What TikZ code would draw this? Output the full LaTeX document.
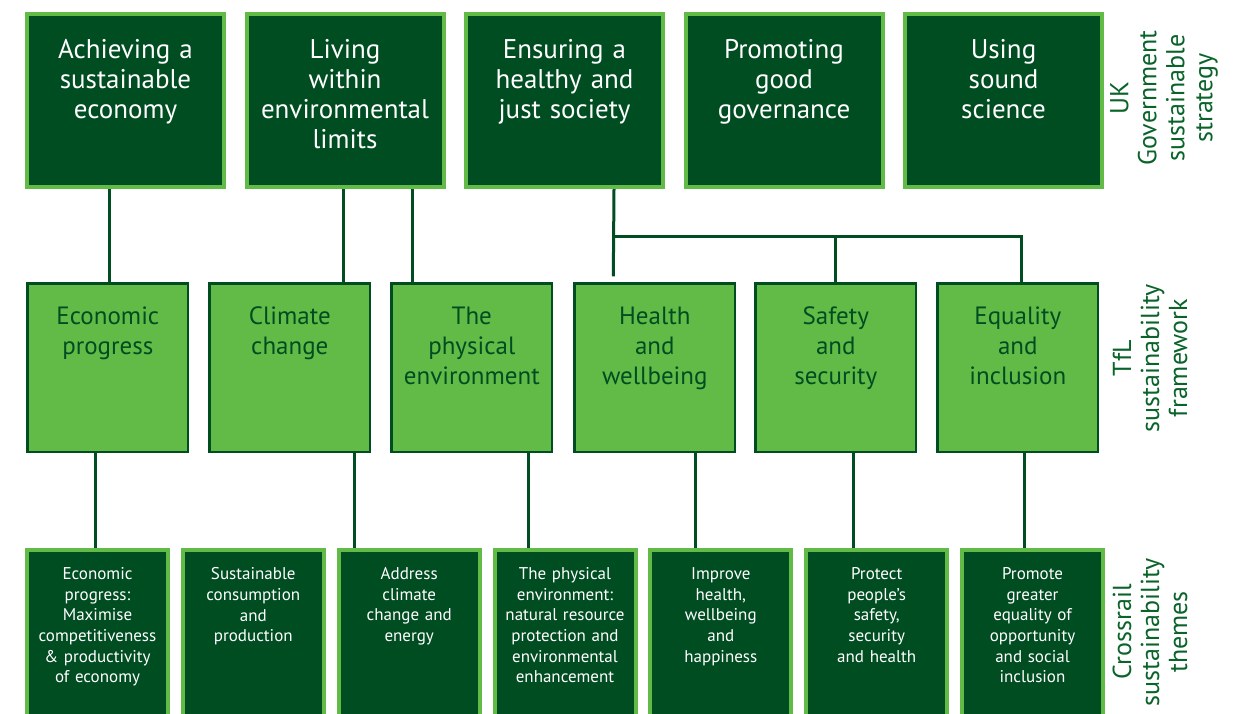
\documentclass[tikz,border=0pt]{standalone}
\usepackage{fontspec}
\setmainfont{PT Sans}
\usetikzlibrary{calc,backgrounds}
\definecolor{deep}{RGB}{0,77,34}
\definecolor{leaf}{RGB}{98,187,70}
\definecolor{caption}{RGB}{10,100,42}
\begin{document}
\begin{tikzpicture}[x=1pt,y=-1pt,
  govbox/.style={draw=leaf, fill=deep, line width=4pt, minimum width=197pt, minimum height=173pt, anchor=north west, inner sep=0pt},
  tflbox/.style={draw=deep, fill=leaf, line width=2.6pt, minimum width=160.4pt, minimum height=168.4pt, anchor=north west, inner sep=0pt},
  crbox/.style={draw=leaf, fill=deep, line width=4pt, minimum width=141pt, minimum height=200pt, anchor=north west, inner sep=0pt},
  govtext/.style={anchor=north, inner sep=0pt, text=white, align=center, text width=195pt, font=\fontsize{27}{30}\selectfont},
  tfltext/.style={anchor=north, inner sep=0pt, text=deep, align=center, text width=158pt, font=\fontsize{25}{30}\selectfont},
  crtext/.style={anchor=north, inner sep=0pt, text=white, align=center, text width=140pt, font=\fontsize{17}{20.6}\selectfont},
  sidelabel/.style={rotate=90, inner sep=0pt, text=caption, align=center, font=\fontsize{26}{28}\selectfont},
  link/.style={draw=deep, line width=3pt}]
\useasboundingbox (0,0) rectangle (1236,713);
\clip (0,0) rectangle (1236,713);

% UK Government sustainable strategy
\node[govbox] (t1) at (25,12) {};
\node[govbox] (t2) at (244.5,12) {};
\node[govbox] (t3) at (464,12) {};
\node[govbox] (t4) at (683.5,12) {};
\node[govbox] (t5) at (903,12) {};
\node[govtext] (t1x) at ([yshift=-27pt]t1.north) {Achieving a\\sustainable\\economy};
\node[govtext] (t2x) at ([yshift=-27pt]t2.north) {Living\\within\\environmental\\limits};
\node[govtext] (t3x) at ([yshift=-27pt]t3.north) {Ensuring a\\healthy and\\just society};
\node[govtext] (t4x) at ([yshift=-27pt]t4.north) {Promoting\\good\\governance};
\node[govtext] (t5x) at ([yshift=-27pt]t5.north) {Using\\sound\\science};

% TfL sustainability framework
\node[tflbox] (m1) at (26.3,282.3) {};
\node[tflbox] (m2) at (208.3,282.3) {};
\node[tflbox] (m3) at (390.3,282.3) {};
\node[tflbox] (m4) at (573.3,282.3) {};
\node[tflbox] (m5) at (754.3,282.3) {};
\node[tflbox] (m6) at (936.3,282.3) {};
\node[tfltext] (m1x) at ([yshift=-24pt]m1.north) {Economic\\progress};
\node[tfltext] (m2x) at ([yshift=-24pt]m2.north) {Climate\\change};
\node[tfltext] (m3x) at ([yshift=-24pt]m3.north) {The\\physical\\environment};
\node[tfltext] (m4x) at ([yshift=-24pt]m4.north) {Health\\and\\wellbeing};
\node[tfltext] (m5x) at ([yshift=-24pt]m5.north) {Safety\\and\\security};
\node[tfltext] (m6x) at ([yshift=-24pt]m6.north) {Equality\\and\\inclusion};

% Crossrail sustainability themes
\node[crbox] (b1) at (25,548) {};
\node[crbox] (b2) at (180.8,548) {};
\node[crbox] (b3) at (336.7,548) {};
\node[crbox] (b4) at (492.5,548) {};
\node[crbox] (b5) at (648.3,548) {};
\node[crbox] (b6) at (804.2,548) {};
\node[crbox] (b7) at (960,548) {};
\node[crtext] (b1x) at ([yshift=-19.5pt]b1.north) {Economic\\progress:\\Maximise\\competitiveness\\\& productivity\\of economy};
\node[crtext] (b2x) at ([yshift=-19.5pt]b2.north) {Sustainable\\consumption\\and\\production};
\node[crtext] (b3x) at ([yshift=-19.5pt]b3.north) {Address\\climate\\change and\\energy};
\node[crtext] (b4x) at ([yshift=-19.5pt]b4.north) {The physical\\environment:\\natural resource\\protection and\\environmental\\enhancement};
\node[crtext] (b5x) at ([yshift=-19.5pt]b5.north) {Improve\\health,\\wellbeing\\and\\happiness};
\node[crtext] (b6x) at ([yshift=-19.5pt]b6.north) {Protect\\people’s\\safety,\\security\\and health};
\node[crtext] (b7x) at ([yshift=-19.5pt]b7.north) {Promote\\greater\\equality of\\opportunity\\and social\\inclusion};

% Row captions
\node[sidelabel] (ukcap) at (1164,98) {UK\\Government\\sustainable\\strategy};
\node[sidelabel] (tflcap) at (1150,358) {TfL\\sustainability\\framework};
\node[sidelabel] (crcap) at (1150,632) {Crossrail\\sustainability\\themes};

% Connectors, kept behind the boxes
\begin{scope}[on background layer]
  \fill[white] (0,0) rectangle (1236,713);
  \draw[link] ([xshift=1.5pt]m1.north) -- ([xshift=1.5pt]m1.north |- t1.south);
  \draw[link] ([xshift=53.5pt]m2.north) -- ([xshift=53.5pt]m2.north |- t2.south);
  \draw[link] ([xshift=-59.5pt]m3.north) -- ([xshift=-59.5pt]m3.north |- t2.south);
  \coordinate (stub) at ([xshift=-41.5pt,yshift=6pt]m4.north);
  \coordinate (bus) at ($(t3.south)+(49.5,47)$);
  \draw[link] ([xshift=49.5pt]t3.south) -- (stub);
  \draw[link] (bus) -| ([xshift=3.5pt]m6.north);
  \draw[link] (m5.north) -- (m5.north |- bus);
  \draw[link] ([xshift=-12pt]m1.south) -- ([xshift=-12pt]m1.south |- b1.north);
  \draw[link] ([xshift=64.5pt]m2.south) -- ([xshift=64.5pt]m2.south |- b3.north);
  \draw[link] ([xshift=56.5pt]m3.south) -- ([xshift=56.5pt]m3.south |- b4.north);
  \draw[link] ([xshift=41pt]m4.south) -- ([xshift=41pt]m4.south |- b5.north);
  \draw[link] ([xshift=17.5pt]m5.south) -- ([xshift=17.5pt]m5.south |- b6.north);
  \draw[link] ([xshift=6.5pt]m6.south) -- ([xshift=6.5pt]m6.south |- b7.north);
\end{scope}
\end{tikzpicture}
\end{document}
